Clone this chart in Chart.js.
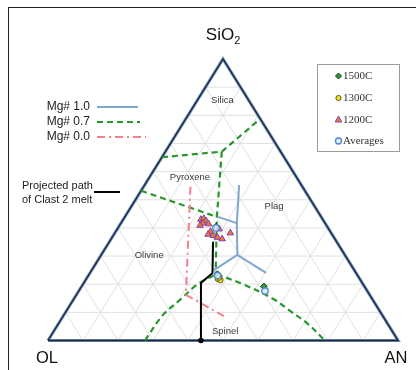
<!DOCTYPE html>
<html>
<head>
<meta charset="utf-8">
<script src="https://cdn.jsdelivr.net/npm/chart.js@4.4.1/dist/chart.umd.min.js"></script>
<style>
  html, body { margin: 0; padding: 0; background: #fff; }
  #wrap { position: relative; width: 416px; height: 370px; }
</style>
</head>
<body>
<div id="wrap"><canvas id="c"></canvas></div>
<script>
// Ternary compositions given as [AN %, SiO2 %]; OL % = 100 - AN - SiO2
const gridTicks = [10, 20, 30, 40, 50, 60, 70, 80, 90];

const mg10Stem    = [[27.0, 55.2], [33.1, 41.7], [38.9, 30.4]];
const mg10Branch1 = [[26.6, 43.9], [33.1, 41.7]];
const mg10Branch2 = [[34.9, 25.0], [38.9, 30.4], [50.3, 24.0]];

const mg07Upper      = [[0, 65.1], [16.1, 67.1], [20.8, 77.7]];
const mg07Middle     = [[16.1, 67.1], [26.3, 43.9], [35.9, 24.0]];
const mg07Left       = [[0, 53.2], [26.3, 43.9]];
const mg07LowerLeft  = [[27.7, 0], [28.3, 9.1], [30.5, 14.4], [32.8, 20.1], [36.4, 23.6]];
const mg07LowerRight = [[36.4, 23.6], [46.4, 19.7], [57.7, 14.4], [63.9, 10.5], [70.9, 6.2], [79.1, 0]];

const mg00Path   = [[13.4, 54.6], [31.3, 16.2], [45.9, 8.7]];
const clast2Path = [[29.6, 35.1], [35.0, 24.0], [33.5, 20.4], [43.7, 0]];

const run1500C = [[27.8, 40.5], [36.6, 23.6], [52.1, 19.2]];
const run1300C = [[37.6, 21.9], [38.5, 21.5], [37.7, 22.4]];
const run1200C = [[22.2, 43.0], [22.9, 43.3], [23.9, 42.5], [23.4, 41.7], [23.0, 40.9],
                  [25.2, 41.4], [27.1, 38.7], [26.9, 37.7], [29.1, 39.6], [28.6, 37.3],
                  [30.1, 36.6], [31.7, 36.1], [33.0, 38.2]];
const averages = [[28.0, 40.0], [36.9, 23.1], [53.2, 17.6]];

const vertexLabels = ['SiO', 'OL', 'AN'];
const fieldNames = ['Silica', 'Pyroxene', 'Plag', 'Olivine', 'Spinel'];
const fieldAt    = [[7.2, 85.3], [11.6, 57.9], [40.7, 47.8], [13.7, 30.4], [48.9, 3.4]];
const lineLegendNames = ['Mg# 1.0', 'Mg# 0.7', 'Mg# 0.0'];
const pointLegendNames = ['1500C', '1300C', '1200C', 'Averages'];

// ---- helpers ----
const toXY = p => ({ x: p[0] + p[1] / 2, y: p[1] });
const pts = arr => arr.map(toXY);

const BLUE = '#7fa6d2', GREEN = '#27972a', PINK = '#f2808f';
const datasets = [];
function line(data, color, width, dash, order, extra) {
  datasets.push(Object.assign({
    data: pts(data), showLine: true, borderColor: color, borderWidth: width,
    borderDash: dash || [], pointRadius: 0, fill: false, clip: false, order: order
  }, extra || {}));
}

// grid
gridTicks.forEach(k => {
  line([[0, k], [100 - k, k]], '#e0e0e0', 1, null, 100);
  line([[k, 0], [k, 100 - k]], '#e0e0e0', 1, null, 100);
  line([[100 - k, 0], [0, 100 - k]], '#e0e0e0', 1, null, 100);
});
// triangle edges (blue halo + dark line)
const tri = [[0, 0], [100, 0], [0, 100], [0, 0]];
line(tri, '#6f93c2', 3.2, null, 60);
line(tri, '#1d2433', 1.4, null, 59);

// Mg# 1.0
[mg10Stem, mg10Branch1, mg10Branch2].forEach(d => line(d, BLUE, 2, null, 30));
// Mg# 0.7
[mg07Upper, mg07Middle, mg07Left].forEach(d => line(d, GREEN, 2.2, [6, 4], 25));
line(mg07LowerLeft, GREEN, 2.2, [6, 4], 25, { tension: 0.35 });
line(mg07LowerRight, GREEN, 2.2, [6, 4], 25, { tension: 0.35 });
// Mg# 0.0
line(mg00Path, PINK, 2, [8, 4, 2, 4], 24);
// Clast 2 path
line(clast2Path, '#000000', 2, null, 20, {
  pointRadius: [0, 0, 0, 1.8], pointBackgroundColor: '#000', pointBorderColor: '#000'
});

// points
datasets.push({ data: pts(run1200C), pointStyle: 'triangle', pointRadius: 3.8,
  backgroundColor: '#f07a1c', borderColor: '#7d3fc4', borderWidth: 1, clip: false, order: 5 });
datasets.push({ data: pts(run1500C), pointStyle: 'rectRot', pointRadius: 3.3,
  backgroundColor: '#2c9a2c', borderColor: '#1e3d1e', borderWidth: 1, clip: false, order: 4 });
datasets.push({ data: pts(run1300C), pointStyle: 'circle', pointRadius: 2.8,
  backgroundColor: '#f2e51a', borderColor: '#5a5a20', borderWidth: 1, clip: false, order: 3 });
datasets.push({ data: pts(averages), pointStyle: 'circle', pointRadius: 3.2,
  backgroundColor: 'rgba(220,235,255,0.85)', borderColor: '#4f83d1', borderWidth: 1.3, clip: false, order: 2 });

const SANS = '"Liberation Sans", Arial, Helvetica, sans-serif';
const SERIF = '"Liberation Serif", "Times New Roman", serif';

const textPlugin = {
  id: 'ternaryText',
  beforeDraw(chart) {
    const c = chart.ctx;
    c.save();
    c.strokeStyle = '#222';
    c.lineWidth = 1;
    c.strokeRect(8.5, 7.5, 430, 400);
    c.restore();
  },
  afterDraw(chart) {
    const c = chart.ctx, xs = chart.scales.x, ys = chart.scales.y;
    const P = p => { const q = toXY(p); return [xs.getPixelForValue(q.x), ys.getPixelForValue(q.y)]; };
    c.save();
    c.fillStyle = '#111';
    // vertex labels
    const apex = P([0, 100]), ol = P([0, 0]), an = P([100, 0]);
    c.font = '17px ' + SANS;
    c.textBaseline = 'alphabetic';
    c.textAlign = 'left';
    const w = c.measureText(vertexLabels[0]).width;
    const sx = apex[0] - (w + 6) / 2;
    c.fillText(vertexLabels[0], sx, apex[1] - 19);
    c.font = '11px ' + SANS;
    c.fillText('2', sx + w, apex[1] - 15);
    c.font = '16.5px ' + SANS;
    c.textAlign = 'center';
    c.fillText(vertexLabels[1], ol[0] - 1, ol[1] + 22);
    c.fillText(vertexLabels[2], an[0] - 2, an[1] + 22);

    // field labels
    c.font = '9.5px ' + SANS;
    c.fillStyle = '#383838';
    c.textBaseline = 'middle';
    fieldNames.forEach((n, i) => { const p = P(fieldAt[i]); c.fillText(n, p[0], p[1]); });

    // left legend (lines)
    c.font = '12px ' + SANS;
    c.fillStyle = '#222';
    c.textAlign = 'right';
    const ly = [107, 122, 137];
    lineLegendNames.forEach((n, i) => c.fillText(n, 90, ly[i]));
    c.lineWidth = 2;
    c.strokeStyle = BLUE; c.setLineDash([]);
    c.beginPath(); c.moveTo(97, ly[0]); c.lineTo(138, ly[0]); c.stroke();
    c.strokeStyle = GREEN; c.lineWidth = 2.2; c.setLineDash([6, 4]);
    c.beginPath(); c.moveTo(97, ly[1]); c.lineTo(140, ly[1]); c.stroke();
    c.strokeStyle = PINK; c.lineWidth = 2; c.setLineDash([8, 4, 2, 4]);
    c.beginPath(); c.moveTo(97, ly[2]); c.lineTo(146, ly[2]); c.stroke();
    c.setLineDash([]);
    c.font = '11px ' + SANS;
    c.textAlign = 'left';
    c.fillText('Projected path', 22, 186);
    c.fillText('of Clast 2 melt', 22, 199.5);
    c.strokeStyle = '#000'; c.lineWidth = 2;
    c.beginPath(); c.moveTo(94, 192); c.lineTo(120, 192); c.stroke();

    // right legend (points)
    c.strokeStyle = '#9a9a9a'; c.lineWidth = 1;
    c.strokeRect(317.5, 64.5, 82, 87);
    c.font = '11px ' + SERIF;
    c.fillStyle = '#333';
    const ry = [76, 98, 119.5, 141];
    const mx = 338.5;
    pointLegendNames.forEach((n, i) => c.fillText(n, 343, ry[i] + 0.5));
    // markers
    c.lineWidth = 1;
    c.fillStyle = '#2c9a2c'; c.strokeStyle = '#1e3d1e';
    c.beginPath(); c.moveTo(mx, ry[0] - 3); c.lineTo(mx + 3, ry[0]); c.lineTo(mx, ry[0] + 3); c.lineTo(mx - 3, ry[0]); c.closePath(); c.fill(); c.stroke();
    c.fillStyle = '#f2e51a'; c.strokeStyle = '#5a5a20';
    c.beginPath(); c.arc(mx, ry[1], 2.6, 0, Math.PI * 2); c.fill(); c.stroke();
    c.fillStyle = '#f07a1c'; c.strokeStyle = '#7d3fc4';
    c.beginPath(); c.moveTo(mx, ry[2] - 3.5); c.lineTo(mx + 3.3, ry[2] + 2.5); c.lineTo(mx - 3.3, ry[2] + 2.5); c.closePath(); c.fill(); c.stroke();
    c.fillStyle = 'rgba(220,235,255,0.85)'; c.strokeStyle = '#4f83d1'; c.lineWidth = 1.3;
    c.beginPath(); c.arc(mx, ry[3], 3, 0, Math.PI * 2); c.fill(); c.stroke();
    c.restore();
  }
};

new Chart(document.getElementById('c'), {
  type: 'scatter',
  data: { datasets: datasets },
  options: {
    responsive: true,
    maintainAspectRatio: false,
    animation: false,
    events: [],
    layout: { padding: { left: 48, right: 18, top: 59, bottom: 29.5 } },
    scales: {
      x: { type: 'linear', min: 0, max: 100, display: false },
      y: { type: 'linear', min: 0, max: 100, display: false }
    },
    plugins: { legend: { display: false }, tooltip: { enabled: false }, title: { display: false } }
  },
  plugins: [textPlugin]
});
</script>
</body>
</html>
